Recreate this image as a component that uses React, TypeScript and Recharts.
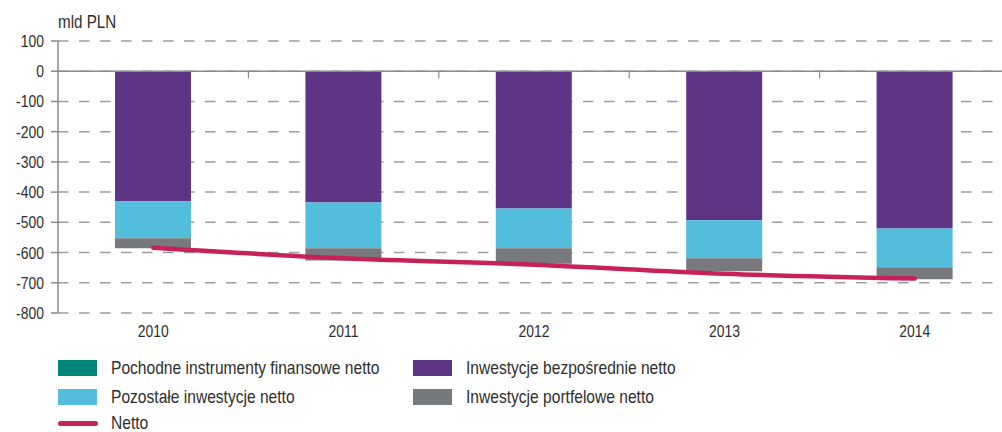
import React from 'react';
import {
  ComposedChart,
  Bar,
  Line,
  XAxis,
  YAxis,
  CartesianGrid,
  ReferenceLine,
} from 'recharts';

const years = ['2010', '2011', '2012', '2013', '2014'];
const bezposrednie = [-430, -434, -454, -493, -520];
const pozostale = [-123, -152, -132, -126, -129];
const portfelowe = [-33, -40, -51, -43, -39];
const pochodne = [0, 0, 0, 0, 0];
const netto = [-584, -619, -640, -670, -686];
const yTicks = [100, 0, -100, -200, -300, -400, -500, -600, -700, -800];

const data = years.map((year, i) => ({
  year,
  bezposrednie: bezposrednie[i],
  pozostale: pozostale[i],
  portfelowe: portfelowe[i],
  pochodne: pochodne[i],
  netto: netto[i],
}));

const FONT = "'Liberation Sans', Arial, sans-serif";
const NARROW = 0.82; // no narrow face installed, squeeze the regular one
const AXIS = '#8a8a8a';
const TEXT = '#2e2e2e';

const COLORS = {
  pochodne: '#00857a',
  bezposrednie: '#5e3584',
  pozostale: '#53bedb',
  portfelowe: '#78797c',
  netto: '#c8215a',
};

function NarrowTick(props: any) {
  const { x, y, payload, textAnchor, verticalAnchor } = props;
  const dy = verticalAnchor === 'start' ? '0.71em' : '0.355em';
  return (
    <g transform={`translate(${x},${y}) scale(${NARROW},1)`}>
      <text x={0} y={0} dy={dy} textAnchor={textAnchor} fontSize={17} fill={TEXT} fontFamily={FONT}>
        {payload.value}
      </text>
    </g>
  );
}

// zero line with small ticks between the categories
function ZeroAxis(props: any) {
  const { x1, x2, y1 } = props;
  const n = years.length;
  const step = (x2 - x1) / n;
  return (
    <g>
      <line x1={x1} x2={x2} y1={y1} y2={y1} stroke={AXIS} strokeWidth={1.5} />
      {years.slice(1).map((_, i) => (
        <line
          key={i}
          x1={x1 + step * (i + 1)}
          x2={x1 + step * (i + 1)}
          y1={y1}
          y2={y1 + 7}
          stroke={AXIS}
          strokeWidth={1.2}
        />
      ))}
    </g>
  );
}

const legendItems = [
  { label: 'Pochodne instrumenty finansowe netto', color: COLORS.pochodne, left: 58, mid: 368, type: 'box' },
  { label: 'Inwestycje bezpośrednie netto', color: COLORS.bezposrednie, left: 413, mid: 368, type: 'box' },
  { label: 'Pozostałe inwestycje netto', color: COLORS.pozostale, left: 58, mid: 397, type: 'box' },
  { label: 'Inwestycje portfelowe netto', color: COLORS.portfelowe, left: 413, mid: 397, type: 'box' },
  { label: 'Netto', color: COLORS.netto, left: 58, mid: 423, type: 'line' },
];

const narrowText = {
  display: 'inline-block',
  transform: `scaleX(${NARROW})`,
  transformOrigin: 'left center',
  whiteSpace: 'nowrap' as const,
};

export default function App() {
  return (
    <div
      style={{
        position: 'fixed',
        left: 0,
        top: 0,
        width: 1002,
        height: 432,
        overflow: 'hidden',
        background: '#fff',
        fontFamily: FONT,
        color: TEXT,
      }}
    >
      <div style={{ position: 'absolute', left: 58, top: 11, fontSize: 18.5, lineHeight: '21px' }}>
        <span style={narrowText}>mld PLN</span>
      </div>
      <ComposedChart
        width={1012}
        height={432}
        data={data}
        stackOffset="sign"
        barCategoryGap={0}
        margin={{ top: 41, right: 2, bottom: 89, left: 0 }}
      >
        <CartesianGrid
          vertical={false}
          stroke="#9d9d9d"
          strokeWidth={1.5}
          strokeDasharray="10.5 10.5"
        />
        <XAxis
          dataKey="year"
          axisLine={false}
          tickLine={false}
          tickMargin={6}
          height={30}
          tick={<NarrowTick />}
        />
        <YAxis
          type="number"
          domain={[-800, 100]}
          ticks={yTicks}
          width={58}
          stroke={AXIS}
          strokeWidth={1.5}
          tickSize={7}
          tickMargin={7}
          tick={<NarrowTick />}
          interval={0}
        />
        <Bar dataKey="bezposrednie" stackId="s" fill={COLORS.bezposrednie} barSize={76} isAnimationActive={false} />
        <Bar dataKey="pozostale" stackId="s" fill={COLORS.pozostale} barSize={76} isAnimationActive={false} />
        <Bar dataKey="portfelowe" stackId="s" fill={COLORS.portfelowe} barSize={76} isAnimationActive={false} />
        <Bar dataKey="pochodne" stackId="s" fill={COLORS.pochodne} barSize={76} isAnimationActive={false} />
        <ReferenceLine y={0} shape={ZeroAxis} />
        <Line
          type="monotone"
          dataKey="netto"
          stroke={COLORS.netto}
          strokeWidth={4.5}
          strokeLinecap="round"
          dot={false}
          activeDot={false}
          isAnimationActive={false}
        />
      </ComposedChart>
      {legendItems.map((item) => (
        <div
          key={item.label}
          style={{ position: 'absolute', left: item.left, top: item.mid - 8, height: 16, display: 'flex', alignItems: 'center' }}
        >
          {item.type === 'box' ? (
            <div style={{ width: 39, height: 16, background: item.color }} />
          ) : (
            <div style={{ width: 40, height: 5, borderRadius: 3, background: item.color }} />
          )}
          <span style={{ marginLeft: item.type === 'box' ? 14 : 13, fontSize: 19, lineHeight: '16px' }}>
            <span style={narrowText}>{item.label}</span>
          </span>
        </div>
      ))}
    </div>
  );
}
